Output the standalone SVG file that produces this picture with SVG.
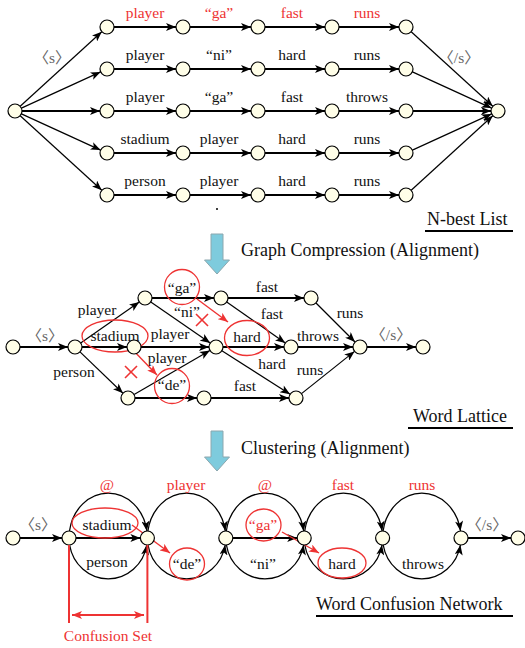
<svg xmlns="http://www.w3.org/2000/svg" width="525" height="648" viewBox="0 0 525 648">
<defs>
<marker id="ah" viewBox="0 0 10 8" refX="10" refY="4" markerWidth="11" markerHeight="8" markerUnits="userSpaceOnUse" orient="auto"><path d="M0,0 L10,4 L0,8 L2.5,4 z" fill="#000"/></marker>
<marker id="ahr" viewBox="0 0 10 8" refX="10" refY="4" markerWidth="10" markerHeight="8" markerUnits="userSpaceOnUse" orient="auto-start-reverse"><path d="M0,0 L10,4 L0,8 L2.5,4 z" fill="#ee3333"/></marker>
</defs>
<style>
.n{fill:#fffee8;stroke:#000;stroke-width:1.2}
.tk{stroke:#000;stroke-width:2.2;fill:none;marker-end:url(#ah)}
.tn{stroke:#000;stroke-width:1.2;fill:none;marker-end:url(#ah)}
.arc{stroke:#000;stroke-width:1.3;fill:none;marker-end:url(#ah)}
.ra{stroke:#ee3333;stroke-width:1.4;fill:none;marker-end:url(#ahr)}
.re{stroke:#ee3333;stroke-width:1.3;fill:none}
.x{stroke:#ee3333;stroke-width:1.6}
text{font-family:"Liberation Serif","Times New Roman","Noto Sans CJK SC",serif;font-size:15.5px;fill:#111;text-anchor:middle}
.red{fill:#ee3333}
.gr{fill:#666}
.title{font-size:18px;text-anchor:start}
.ul{stroke:#000;stroke-width:2}
.blue{fill:#7ecbdd;stroke:#8ca7ae;stroke-width:1}
</style>

<!-- ===== N-best list ===== -->
<g id="nbest-edges">
<line class="tn" x1="20.2" y1="106.3" x2="101.8" y2="31.7"/>
<line class="tn" x1="21.4" y1="108.1" x2="100.6" y2="71.9"/>
<line class="tk" x1="22" y1="111" x2="100" y2="111"/>
<line class="tn" x1="21.4" y1="113.9" x2="100.6" y2="150.1"/>
<line class="tn" x1="20.2" y1="115.7" x2="101.8" y2="190.3"/>
<line class="tk" x1="114" y1="27" x2="176" y2="27"/><line class="tk" x1="190" y1="27" x2="251" y2="27"/><line class="tk" x1="265" y1="27" x2="325" y2="27"/><line class="tk" x1="339" y1="27" x2="399" y2="27"/>
<line class="tk" x1="114" y1="69" x2="176" y2="69"/><line class="tk" x1="190" y1="69" x2="251" y2="69"/><line class="tk" x1="265" y1="69" x2="325" y2="69"/><line class="tk" x1="339" y1="69" x2="399" y2="69"/>
<line class="tk" x1="114" y1="111" x2="176" y2="111"/><line class="tk" x1="190" y1="111" x2="251" y2="111"/><line class="tk" x1="265" y1="111" x2="325" y2="111"/><line class="tk" x1="339" y1="111" x2="399" y2="111"/>
<line class="tk" x1="114" y1="153" x2="176" y2="153"/><line class="tk" x1="190" y1="153" x2="251" y2="153"/><line class="tk" x1="265" y1="153" x2="325" y2="153"/><line class="tk" x1="339" y1="153" x2="399" y2="153"/>
<line class="tk" x1="114" y1="195" x2="176" y2="195"/><line class="tk" x1="190" y1="195" x2="251" y2="195"/><line class="tk" x1="265" y1="195" x2="325" y2="195"/><line class="tk" x1="339" y1="195" x2="399" y2="195"/>
<line class="tn" x1="411.2" y1="31.7" x2="492.8" y2="106.3"/>
<line class="tn" x1="412.4" y1="71.9" x2="491.6" y2="108.1"/>
<line class="tk" x1="413" y1="111" x2="491" y2="111"/>
<line class="tn" x1="412.4" y1="150.1" x2="491.6" y2="113.9"/>
<line class="tn" x1="411.2" y1="190.3" x2="492.8" y2="115.7"/>
</g>
<g id="nbest-labels">
<text class="gr" x="52" y="63">〈s〉</text>
<text class="gr" x="459" y="63">〈/s〉</text>
<text class="red" x="145" y="18">player</text><text class="red" x="219" y="18">“ga”</text><text class="red" x="292" y="18">fast</text><text class="red" x="367" y="18">runs</text>
<text x="145" y="60">player</text><text x="219" y="60">“ni”</text><text x="292" y="60">hard</text><text x="367" y="60">runs</text>
<text x="145" y="102">player</text><text x="219" y="102">“ga”</text><text x="292" y="102">fast</text><text x="367" y="102">throws</text>
<text x="145" y="144">stadium</text><text x="219" y="144">player</text><text x="292" y="144">hard</text><text x="367" y="144">runs</text>
<text x="145" y="186">person</text><text x="219" y="186">player</text><text x="292" y="186">hard</text><text x="367" y="186">runs</text>
</g>
<g id="nbest-nodes">
<circle class="n" cx="15" cy="111" r="7"/>
<circle class="n" cx="498" cy="111" r="7"/>
<circle class="n" cx="107" cy="27" r="7"/><circle class="n" cx="183" cy="27" r="7"/><circle class="n" cx="258" cy="27" r="7"/><circle class="n" cx="332" cy="27" r="7"/><circle class="n" cx="406" cy="27" r="7"/>
<circle class="n" cx="107" cy="69" r="7"/><circle class="n" cx="183" cy="69" r="7"/><circle class="n" cx="258" cy="69" r="7"/><circle class="n" cx="332" cy="69" r="7"/><circle class="n" cx="406" cy="69" r="7"/>
<circle class="n" cx="107" cy="111" r="7"/><circle class="n" cx="183" cy="111" r="7"/><circle class="n" cx="258" cy="111" r="7"/><circle class="n" cx="332" cy="111" r="7"/><circle class="n" cx="406" cy="111" r="7"/>
<circle class="n" cx="107" cy="153" r="7"/><circle class="n" cx="183" cy="153" r="7"/><circle class="n" cx="258" cy="153" r="7"/><circle class="n" cx="332" cy="153" r="7"/><circle class="n" cx="406" cy="153" r="7"/>
<circle class="n" cx="107" cy="195" r="7"/><circle class="n" cx="183" cy="195" r="7"/><circle class="n" cx="258" cy="195" r="7"/><circle class="n" cx="332" cy="195" r="7"/><circle class="n" cx="406" cy="195" r="7"/>
<circle cx="217" cy="209" r="1" fill="#000"/>
</g>
<g id="nbest-title">
<text class="title" x="427" y="225">N-best List</text>
<line class="ul" x1="425" y1="231" x2="513" y2="231"/>
</g>

<g id="step1">
<polygon class="blue" points="211,234 223,234 223,260 229.5,260 217,274 204.5,260 211,260"/>
<text class="title" x="241" y="256">Graph Compression (Alignment)</text>
</g>

<!-- ===== Word lattice ===== -->
<g id="lattice-edges">
<line class="tk" x1="20" y1="347" x2="68" y2="347"/>
<line class="tn" x1="80.7" y1="343" x2="139.3" y2="302"/>
<line class="tk" x1="82" y1="347" x2="127" y2="347"/>
<line class="tn" x1="80" y1="351.9" x2="123" y2="393.2"/>
<line class="tk" x1="152" y1="298" x2="214" y2="298"/>
<line class="tn" x1="150.8" y1="302" x2="210.2" y2="343"/>
<line class="tk" x1="141" y1="347" x2="209" y2="347"/>
<line class="tn" x1="134.1" y1="394.5" x2="209.9" y2="350.5"/>
<line class="tk" x1="135" y1="398" x2="197" y2="398"/>
<line class="tk" x1="228" y1="298" x2="304" y2="298"/>
<line class="tn" x1="226.7" y1="302" x2="285.3" y2="343"/>
<line class="tk" x1="223" y1="347" x2="284" y2="347"/>
<line class="tn" x1="221.9" y1="350.8" x2="290.1" y2="394.2"/>
<line class="tk" x1="211" y1="398" x2="289" y2="398"/>
<line class="tn" x1="316" y1="303" x2="355" y2="342"/>
<line class="tk" x1="298" y1="347" x2="353" y2="347"/>
<line class="tn" x1="301.5" y1="393.6" x2="354.5" y2="351.4"/>
<line class="tk" x1="367" y1="347" x2="416" y2="347"/>
</g>
<g id="lattice-labels">
<text class="gr" x="45" y="341">〈s〉</text>
<text x="97" y="315">player</text>
<text x="115" y="341">stadium</text>
<text x="74" y="377">person</text>
<text x="182" y="293">“ga”</text>
<text x="187" y="317">“ni”</text>
<text x="170" y="339">player</text>
<text x="167" y="363">player</text>
<text x="172" y="390">“de”</text>
<text x="267" y="292">fast</text>
<text x="272" y="319">fast</text>
<text x="247" y="342">hard</text>
<text x="272" y="369">hard</text>
<text x="245" y="391">fast</text>
<text x="350" y="318">runs</text>
<text x="318" y="341">throws</text>
<text x="310" y="375">runs</text>
<text class="gr" x="391" y="340">〈/s〉</text>
</g>
<g id="lattice-marks">
<ellipse class="re" cx="115" cy="336" rx="33" ry="16"/>
<circle class="re" cx="182" cy="287" r="17.5"/>
<ellipse class="re" cx="247" cy="338" rx="22.5" ry="17.5"/>
<circle class="re" cx="172" cy="386" r="17.5"/>
<line class="ra" x1="130" y1="347" x2="157" y2="375"/>
<line class="ra" x1="197" y1="299" x2="228" y2="322"/>
<line class="x" x1="125" y1="366" x2="137" y2="378"/><line class="x" x1="137" y1="366" x2="125" y2="378"/>
<line class="x" x1="196" y1="314" x2="208" y2="326"/><line class="x" x1="208" y1="314" x2="196" y2="326"/>
</g>
<g id="lattice-nodes">
<circle class="n" cx="13" cy="347" r="7"/>
<circle class="n" cx="75" cy="347" r="7"/>
<circle class="n" cx="145" cy="298" r="7"/>
<circle class="n" cx="134" cy="347" r="7"/>
<circle class="n" cx="128" cy="398" r="7"/>
<circle class="n" cx="221" cy="298" r="7"/>
<circle class="n" cx="216" cy="347" r="7"/>
<circle class="n" cx="204" cy="398" r="7"/>
<circle class="n" cx="311" cy="298" r="7"/>
<circle class="n" cx="291" cy="347" r="7"/>
<circle class="n" cx="296" cy="398" r="7"/>
<circle class="n" cx="360" cy="347" r="7"/>
<circle class="n" cx="423" cy="347" r="7"/>
</g>
<g id="lattice-title">
<text class="title" x="413" y="422">Word Lattice</text>
<line class="ul" x1="408" y1="428" x2="513" y2="428"/>
</g>

<g id="step2">
<polygon class="blue" points="211,431 223,431 223,457 229.5,457 217,471 204.5,457 211,457"/>
<text class="title" x="241" y="454">Clustering (Alignment)</text>
</g>

<!-- ===== Word confusion network ===== -->
<g id="wcn-edges">
<line class="tk" x1="20" y1="538" x2="62" y2="538"/>
<line class="tk" x1="76" y1="538" x2="140.4" y2="538"/>
<line class="tk" x1="232.8" y1="538" x2="297.2" y2="538"/>
<line class="tk" x1="468" y1="538" x2="511" y2="538"/>
<path class="arc" d="M69.5,531 A39.2,45 0 0 1 146.9,531"/>
<path class="arc" d="M69.6,545 A39.2,41 0 0 0 146.8,545"/>
<path class="arc" d="M147.9,531 A39.2,45 0 0 1 225.3,531"/>
<path class="arc" d="M148,545 A39.2,41 0 0 0 225.2,545"/>
<path class="arc" d="M226.3,531 A39.2,45 0 0 1 303.7,531"/>
<path class="arc" d="M226.4,545 A39.2,41 0 0 0 303.6,545"/>
<path class="arc" d="M304.7,531 A39.2,45 0 0 1 382.1,531"/>
<path class="arc" d="M304.8,545 A39.2,41 0 0 0 382,545"/>
<path class="arc" d="M383.1,531 A39.2,45 0 0 1 460.5,531"/>
<path class="arc" d="M383.2,545 A39.2,41 0 0 0 460.4,545"/>
</g>
<g id="wcn-labels">
<text class="gr" x="38" y="530">〈s〉</text>
<text class="gr" x="487" y="530">〈/s〉</text>
<text class="red" x="107" y="490">@</text>
<text class="red" x="186" y="490">player</text>
<text class="red" x="265" y="490">@</text>
<text class="red" x="343" y="490">fast</text>
<text class="red" x="422" y="490">runs</text>
<text x="107" y="530">stadium</text>
<text x="107" y="567">person</text>
<text x="187" y="569">“de”</text>
<text class="red" x="263" y="530">“ga”</text>
<text x="263" y="569">“ni”</text>
<text x="342" y="569">hard</text>
<text x="423" y="569">throws</text>
</g>
<g id="wcn-marks">
<ellipse class="re" cx="105" cy="523" rx="33" ry="15"/>
<ellipse class="re" cx="187" cy="564" rx="17.5" ry="16"/>
<ellipse class="re" cx="263.5" cy="525" rx="17.5" ry="16"/>
<ellipse class="re" cx="342" cy="563" rx="24" ry="15"/>
<line class="ra" x1="132" y1="525" x2="170" y2="553"/>
<line class="ra" x1="282" y1="532" x2="319" y2="553"/>
</g>
<g id="wcn-nodes">
<circle class="n" cx="13" cy="538" r="7"/>
<circle class="n" cx="69" cy="538" r="7"/>
<circle class="n" cx="147.4" cy="538" r="7"/>
<circle class="n" cx="225.8" cy="538" r="7"/>
<circle class="n" cx="304.2" cy="538" r="7"/>
<circle class="n" cx="382.6" cy="538" r="7"/>
<circle class="n" cx="461" cy="538" r="7"/>
<circle class="n" cx="518" cy="538" r="7"/>
</g>
<g id="confusion-set">
<line stroke="#ee3333" stroke-width="2" x1="69" y1="545" x2="69" y2="623"/>
<line stroke="#ee3333" stroke-width="2" x1="147.4" y1="545" x2="147.4" y2="623"/>
<line stroke="#ee3333" stroke-width="1.8" x1="72" y1="615" x2="144" y2="615" marker-start="url(#ahr)" marker-end="url(#ahr)"/>
<text class="red" x="108" y="641">Confusion Set</text>
</g>
<g id="wcn-title">
<text class="title" x="316" y="610">Word Confusion Network</text>
<line class="ul" x1="316" y1="616" x2="513" y2="616"/>
</g>
</svg>
